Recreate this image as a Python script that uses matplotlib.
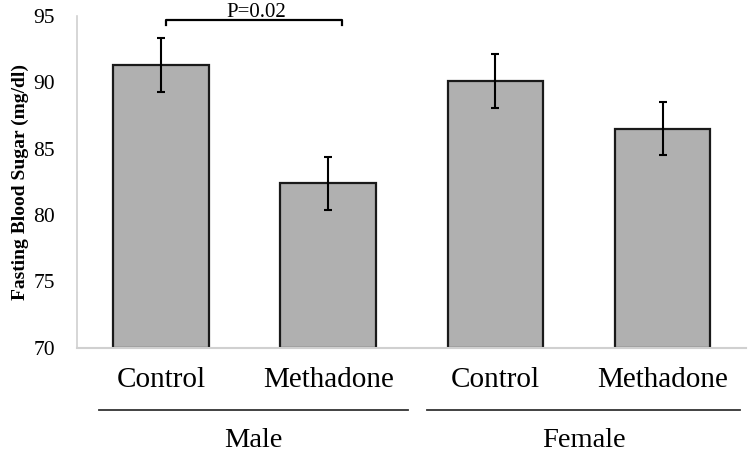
import numpy as np
import matplotlib.pyplot as plt

plt.rcParams["font.family"] = ["Liberation Serif", "DejaVu Serif"]

groups = ["Male", "Female"]
labels = ["Control", "Methadone", "Control", "Methadone"]
means = [91.3, 82.4, 90.1, 86.5]
errors = [2.0, 2.0, 2.0, 2.0]
p_text = "P=0.02"

fig = plt.figure(figsize=(7.5, 4.53), dpi=100)
ax = fig.add_axes([0.103, 0.232, 0.892, 0.733])

x = np.arange(len(means))
ax.bar(x, np.array(means) - 70, bottom=70, width=0.57, color="#b0b0b0",
       edgecolor="#1a1a1a", linewidth=1.6, zorder=2)
ax.errorbar(x, means, yerr=errors, fmt="none", ecolor="black", elinewidth=1.5,
            capsize=3, capthick=1.5, zorder=3)

ax.set_xlim(-0.5, 3.5)
ax.set_ylim(70, 95)
ax.set_yticks([70, 75, 80, 85, 90, 95])
ax.set_yticklabels(["70", "75", "80", "85", "90", "95"], fontsize=15.5)
ax.set_xticks(x)
ax.set_xticklabels(labels, fontsize=21)
ax.tick_params(axis="x", length=0, pad=14)
ax.tick_params(axis="y", length=0, pad=16)

for s in ["top", "right"]:
    ax.spines[s].set_visible(False)
ax.spines["left"].set_color("#d0d0d0")
ax.spines["bottom"].set_color("#d0d0d0")
ax.spines["left"].set_linewidth(1.2)
ax.spines["bottom"].set_linewidth(1.5)

ax.set_ylabel("Fasting Blood Sugar (mg/dl)", fontsize=14, fontweight="bold", labelpad=3)

# significance bracket
ax.plot([0.03, 0.03, 1.08, 1.08], [94.3, 94.7, 94.7, 94.3], color="black", lw=1.6, clip_on=False)
ax.text(0.57, 94.93, p_text, ha="center", va="baseline", fontsize=15)

# group lines and labels
tr = ax.get_xaxis_transform()
spans = [(-0.37, 1.476), (1.594, 3.46)]
for g, (a, b) in zip(groups, spans):
    ax.plot([a, b], [-0.187, -0.187], color="#333333", lw=1.3, transform=tr, clip_on=False)
    ax.text((a + b) / 2, -0.298, g, ha="center", va="baseline", fontsize=20.5, transform=tr)

fig.savefig("out.png", dpi=100)
